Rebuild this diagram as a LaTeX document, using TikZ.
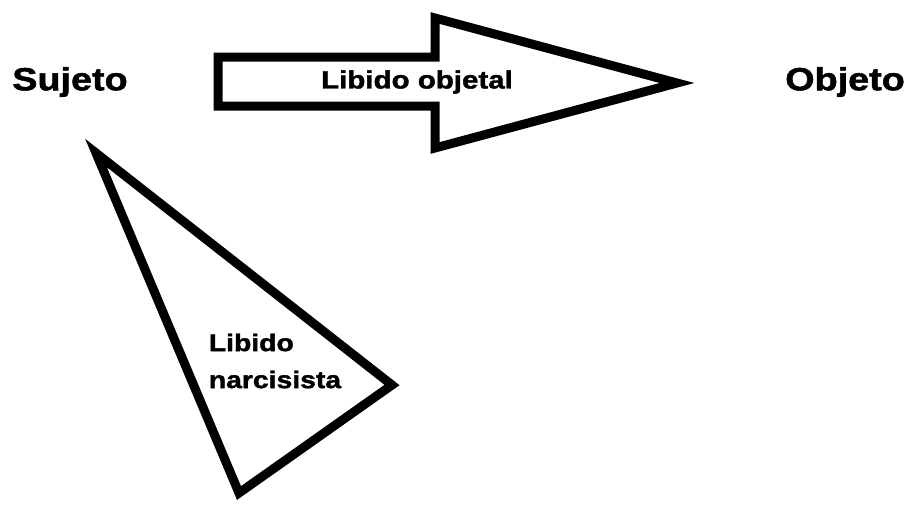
\documentclass[tikz,border=0pt]{standalone}
\usepackage{fontspec}
\newfontfamily\lblfont[FakeStretch=1.18,FakeBold=1.6]{Liberation Sans Bold}
\usepackage{tikz}
\usetikzlibrary{calc,positioning}

\tikzset{
  bigtext/.style={font=\lblfont\fontsize{32}{36}\selectfont, inner sep=0pt},
  smalltext/.style={font=\lblfont\fontsize{25}{37}\selectfont, inner sep=0pt},
  thickshape/.style={draw=black, line width=9pt, line join=miter, fill=white}
}

\begin{document}
\begin{tikzpicture}[x=1pt,y=-1pt]
            \useasboundingbox (0,0) rectangle (909,504);
            % flecha: libido hacia el objeto
            \draw[thickshape] (218,57) -- (435,57) -- (435,18) -- (677,83)
                -- (435,148) -- (435,106) -- (218,106) -- cycle;
            % triangulo: libido narcisista
            \draw[thickshape] (96,153) -- (392,385) -- (239,493) -- cycle;
            \node[bigtext] (suj) at (70,82) {Sujeto};
            \node[bigtext] (obj) at (845,82) {Objeto};
            \node[smalltext] (obl) at (417,82) {Libido objetal};
            \node[smalltext, font=\lblfont\fontsize{24}{37}\selectfont, align=left] (nar) at (275,361) {Libido\\narcisista};
        \end{tikzpicture}
\end{document}
